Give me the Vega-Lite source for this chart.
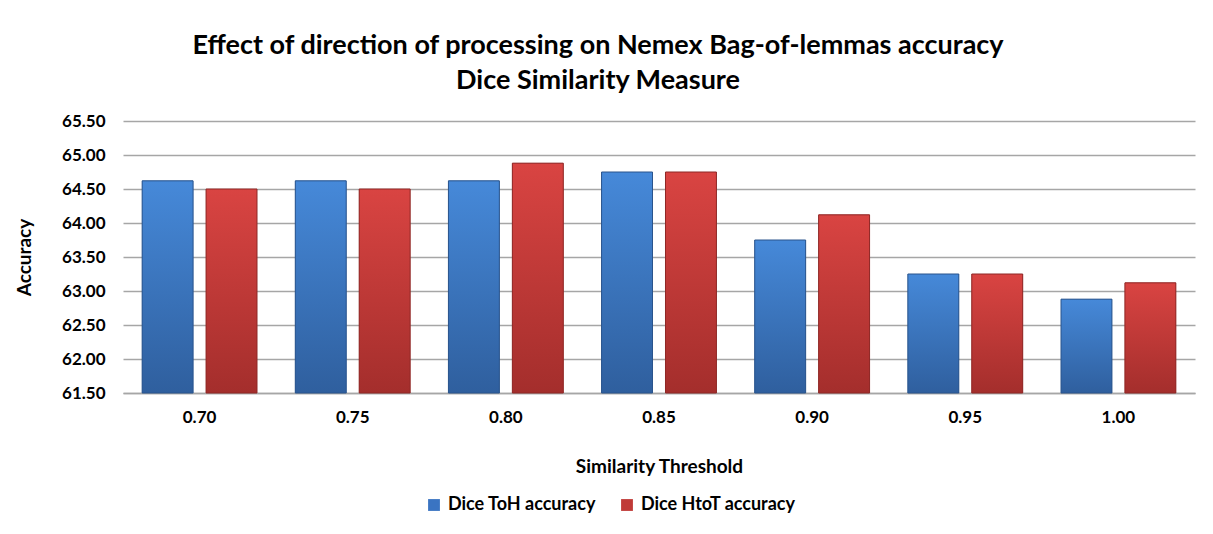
{
  "$schema": "https://vega.github.io/schema/vega-lite/v6.json",
  "width": 1072,
  "height": 272,
  "autosize": {"type": "none"},
  "padding": {"left": 123, "top": 121, "right": 18, "bottom": 141},
  "background": "white",
  "config": {
    "font": "Lato",
    "view": {"stroke": null},
    "axis": {"labelFont": "Lato", "titleFont": "Lato"}
  },
  "title": {
    "text": ["Effect of direction of processing on Nemex Bag-of-lemmas accuracy", "Dice Similarity Measure"],
    "font": "Lato",
    "fontSize": 27,
    "fontWeight": "bold",
    "color": "#000000",
    "lineHeight": 35,
    "anchor": "middle",
    "dx": -61,
    "offset": 17
  },
  "data": {
    "values": [
      {"threshold": "0.70", "series": "Dice ToH accuracy", "accuracy": 64.62},
      {"threshold": "0.70", "series": "Dice HtoT accuracy", "accuracy": 64.50},
      {"threshold": "0.75", "series": "Dice ToH accuracy", "accuracy": 64.62},
      {"threshold": "0.75", "series": "Dice HtoT accuracy", "accuracy": 64.50},
      {"threshold": "0.80", "series": "Dice ToH accuracy", "accuracy": 64.62},
      {"threshold": "0.80", "series": "Dice HtoT accuracy", "accuracy": 64.88},
      {"threshold": "0.85", "series": "Dice ToH accuracy", "accuracy": 64.75},
      {"threshold": "0.85", "series": "Dice HtoT accuracy", "accuracy": 64.75},
      {"threshold": "0.90", "series": "Dice ToH accuracy", "accuracy": 63.75},
      {"threshold": "0.90", "series": "Dice HtoT accuracy", "accuracy": 64.12},
      {"threshold": "0.95", "series": "Dice ToH accuracy", "accuracy": 63.25},
      {"threshold": "0.95", "series": "Dice HtoT accuracy", "accuracy": 63.25},
      {"threshold": "1.00", "series": "Dice ToH accuracy", "accuracy": 62.88},
      {"threshold": "1.00", "series": "Dice HtoT accuracy", "accuracy": 63.12}
    ]
  },
  "encoding": {
    "x": {
      "field": "threshold",
      "type": "nominal",
      "sort": null,
      "scale": {"paddingInner": 0.25, "paddingOuter": 0.125},
      "axis": {
        "title": "Similarity Threshold",
        "labelAngle": 0,
        "labelFontSize": 17,
        "labelFontWeight": "bold",
        "labelColor": "#000000",
        "labelPadding": 16,
        "ticks": false,
        "domain": true,
        "domainColor": "#a6a6a6",
        "domainWidth": 1.5,
        "titleFontSize": 19,
        "titleFontWeight": "bold",
        "titleColor": "#000000",
        "titleY": 64
      }
    },
    "xOffset": {
      "field": "series",
      "type": "nominal",
      "scale": {"domain": ["Dice ToH accuracy", "Dice HtoT accuracy"], "paddingInner": 0.203, "paddingOuter": 0}
    },
    "y": {
      "field": "accuracy",
      "type": "quantitative",
      "scale": {"domain": [61.5, 65.5], "zero": false, "nice": false},
      "axis": {
        "title": "Accuracy",
        "values": [61.5, 62, 62.5, 63, 63.5, 64, 64.5, 65, 65.5],
        "format": ".2f",
        "labelFontSize": 17,
        "labelFontWeight": "bold",
        "labelColor": "#000000",
        "labelPadding": 18,
        "ticks": false,
        "domain": false,
        "grid": true,
        "gridColor": "#a6a6a6",
        "gridWidth": 1.5,
        "titleFontSize": 19,
        "titleFontWeight": "bold",
        "titleColor": "#000000",
        "titleX": -89,
        "titleY": 136
      }
    },
    "y2": {"datum": 61.5}
  },
  "layer": [
    {
      "mark": {"type": "bar"},
      "encoding": {
        "color": {
          "field": "series",
          "type": "nominal",
          "scale": {"domain": ["Dice ToH accuracy", "Dice HtoT accuracy"], "range": ["#3a74c2", "#c03a37"]},
          "legend": {
            "title": null,
            "orient": "none",
            "direction": "horizontal",
            "legendX": 302,
            "legendY": 375,
            "padding": 0,
            "symbolType": "square",
            "symbolSize": 140,
            "symbolStrokeWidth": 0,
            "labelFontSize": 18,
            "labelFontWeight": "bold",
            "labelColor": "#000000",
            "labelFont": "Lato",
            "columnPadding": 22,
            "labelOffset": 5,
            "labelLimit": 300
          }
        }
      }
    },
    {
      "transform": [{"filter": "datum.series === 'Dice ToH accuracy'"}],
      "mark": {
        "type": "bar",
        "fill": {
          "gradient": "linear", "x1": 0, "y1": 0, "x2": 0, "y2": 1,
          "stops": [
            {"offset": 0, "color": "#4689d9"},
            {"offset": 1, "color": "#2f5f9e"}
          ]
        },
        "stroke": "#2a548c",
        "strokeWidth": 1
      }
    },
    {
      "transform": [{"filter": "datum.series === 'Dice HtoT accuracy'"}],
      "mark": {
        "type": "bar",
        "fill": {
          "gradient": "linear", "x1": 0, "y1": 0, "x2": 0, "y2": 1,
          "stops": [
            {"offset": 0, "color": "#d94442"},
            {"offset": 1, "color": "#a42e2c"}
          ]
        },
        "stroke": "#8e2826",
        "strokeWidth": 1
      }
    }
  ]
}
